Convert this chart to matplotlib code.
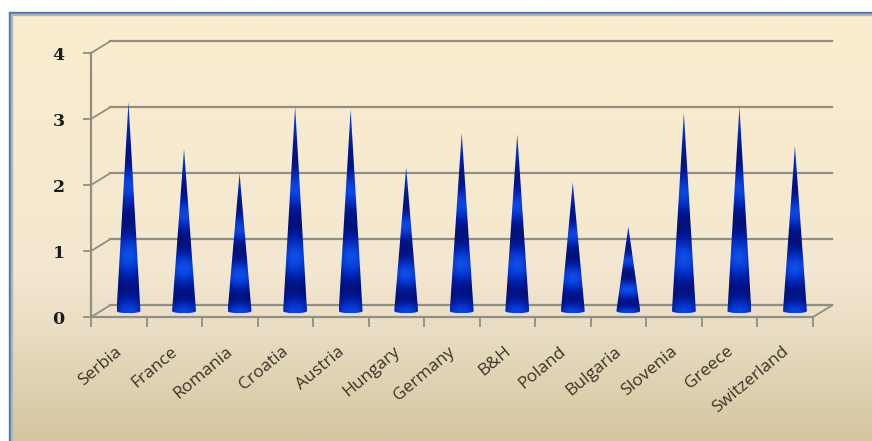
import numpy as np
import matplotlib
matplotlib.use('Agg')
import matplotlib.pyplot as plt
from matplotlib.path import Path
from matplotlib.patches import PathPatch, Rectangle
from matplotlib.colors import LinearSegmentedColormap
from matplotlib.transforms import ScaledTranslation

countries = ['Serbia', 'France', 'Romania', 'Croatia', 'Austria', 'Hungary', 'Germany',
             'B&H', 'Poland', 'Bulgaria', 'Slovenia', 'Greece', 'Switzerland']
values = [3.17, 2.46, 2.09, 3.10, 3.06, 2.18, 2.70, 2.68, 1.95, 1.28, 3.00, 3.10, 2.50]
y_ticks = [0, 1, 2, 3, 4]

W, H = 872, 441
fig = plt.figure(figsize=(W / 100, H / 100), dpi=100, facecolor='white')

# Panel background
bg = fig.add_axes([0, 0, 1, 1], zorder=0)
bg.axis('off')
grad_stops = [(0.0, '#fcedcf'), (0.6, '#f3e8cf'), (0.72, '#eadfc5'), (1.0, '#d5c6a0')]
grad = LinearSegmentedColormap.from_list('panel', grad_stops)
bg.imshow(np.linspace(0, 1, 256)[:, None], cmap=grad, extent=(9, W, H, 14), aspect='auto', zorder=1)
bg.set_xlim(0, W)
bg.set_ylim(H, 0)
bg.add_patch(Rectangle((8.5, 12), W, 2.2, color='#4a7ebb', zorder=3))
bg.add_patch(Rectangle((8.5, 12), 2.2, H, color='#4a7ebb', zorder=3))
bg.add_patch(Rectangle((10.7, 14.2), W, 1.2, color='#b8b5a8', zorder=3))
bg.add_patch(Rectangle((10.7, 14.2), 1.2, H, color='#b8b5a8', zorder=3))

# Front plane of the 3-D chart
x0, x1, ytop, ybot = 91, 813, 53, 317
ax = fig.add_axes([x0 / W, 1 - ybot / H, (x1 - x0) / W, (ybot - ytop) / H], zorder=2)
ax.set_xlim(0, len(countries))
ax.set_ylim(0, 4)
ax.patch.set_visible(False)
for s in ('top', 'right'):
    ax.spines[s].set_visible(False)
GREY = '#8f8f84'
for s in ('left', 'bottom'):
    ax.spines[s].set_color(GREY)
    ax.spines[s].set_linewidth(1.6)

# Depth of the 3-D box, in data units
DX = 0.35
DY = 0.18
n = len(countries)
for v in y_ticks:
    ax.plot([0, DX], [v, v + DY], color=GREY, lw=1.3, clip_on=False, zorder=1)
    ax.plot([DX, n + DX], [v + DY, v + DY], color=GREY, lw=1.6, clip_on=False, zorder=1)
ax.plot([n, n + DX], [0, DY], color=GREY, lw=1.3, clip_on=False, zorder=1)

ax.set_yticks(y_ticks)
ax.set_yticklabels([str(v) for v in y_ticks], family='DejaVu Serif', fontweight='bold',
                   fontsize=12.5, color='#1c1c1c')
ax.tick_params(axis='y', length=6, width=1.3, color=GREY, pad=13)
ax.set_xticks(np.arange(n + 1))
ax.set_xticklabels([])
ax.tick_params(axis='x', which='major', length=7, width=1.3, color=GREY)
ax.set_xticks(np.arange(n) + 0.5, minor=True)
ax.set_xticklabels(countries, minor=True, rotation=40, ha='right', rotation_mode='anchor',
                   family='Open Sans', fontsize=12.5, color='#3a3428')
ax.tick_params(axis='x', which='minor', length=0, pad=19)
shift = ScaledTranslation(-4 / 100, 0, fig.dpi_scale_trans)
for lab in ax.get_xticklabels(minor=True):
    lab.set_transform(lab.get_transform() + shift)

# Cone shading
cone_cmap = LinearSegmentedColormap.from_list(
    'cone', ['#03085e', '#001a9a', '#0536cf', '#0f55ee'])
t = np.linspace(0, 1, 200)
bands = (0.72 * np.exp(-((t - 0.00) / 0.07) ** 2) + 0.82 * np.exp(-((t - 0.27) / 0.10) ** 2)
         + 0.75 * np.exp(-((t - 0.60) / 0.09) ** 2) + 0.62 * np.exp(-((t - 0.97) / 0.15) ** 2)
         + 0.1)
u = np.linspace(-1, 1, 80)
across = 1 - 0.4 * u ** 2
shade = np.clip(np.outer(bands, across), 0, 1)

HALF = 0.215
ELL = 0.032
cx_off = DX / 2
cy_off = DY * 0.5
for i, v in enumerate(values):
    cx = i + 0.5 + cx_off
    b = cy_off
    top = b + v
    th = np.linspace(np.pi, 2 * np.pi, 30)
    verts = [(cx, top)] + [(cx + HALF * np.cos(a), b + ELL * np.sin(a)) for a in th] + [(cx, top)]
    codes = [Path.MOVETO] + [Path.LINETO] * (len(verts) - 2) + [Path.CLOSEPOLY]
    clip = PathPatch(Path(verts, codes), transform=ax.transData, fc='none', ec='none')
    ax.add_patch(clip)
    im = ax.imshow(shade, cmap=cone_cmap, vmin=0, vmax=1, origin='lower', aspect='auto',
                   extent=(cx - HALF, cx + HALF, b - ELL, top), zorder=3,
                   interpolation='bilinear')
    im.set_clip_path(clip)
ax.set_xlim(0, n)
ax.set_ylim(0, 4)

fig.savefig('out.png', dpi=100, facecolor='white')
